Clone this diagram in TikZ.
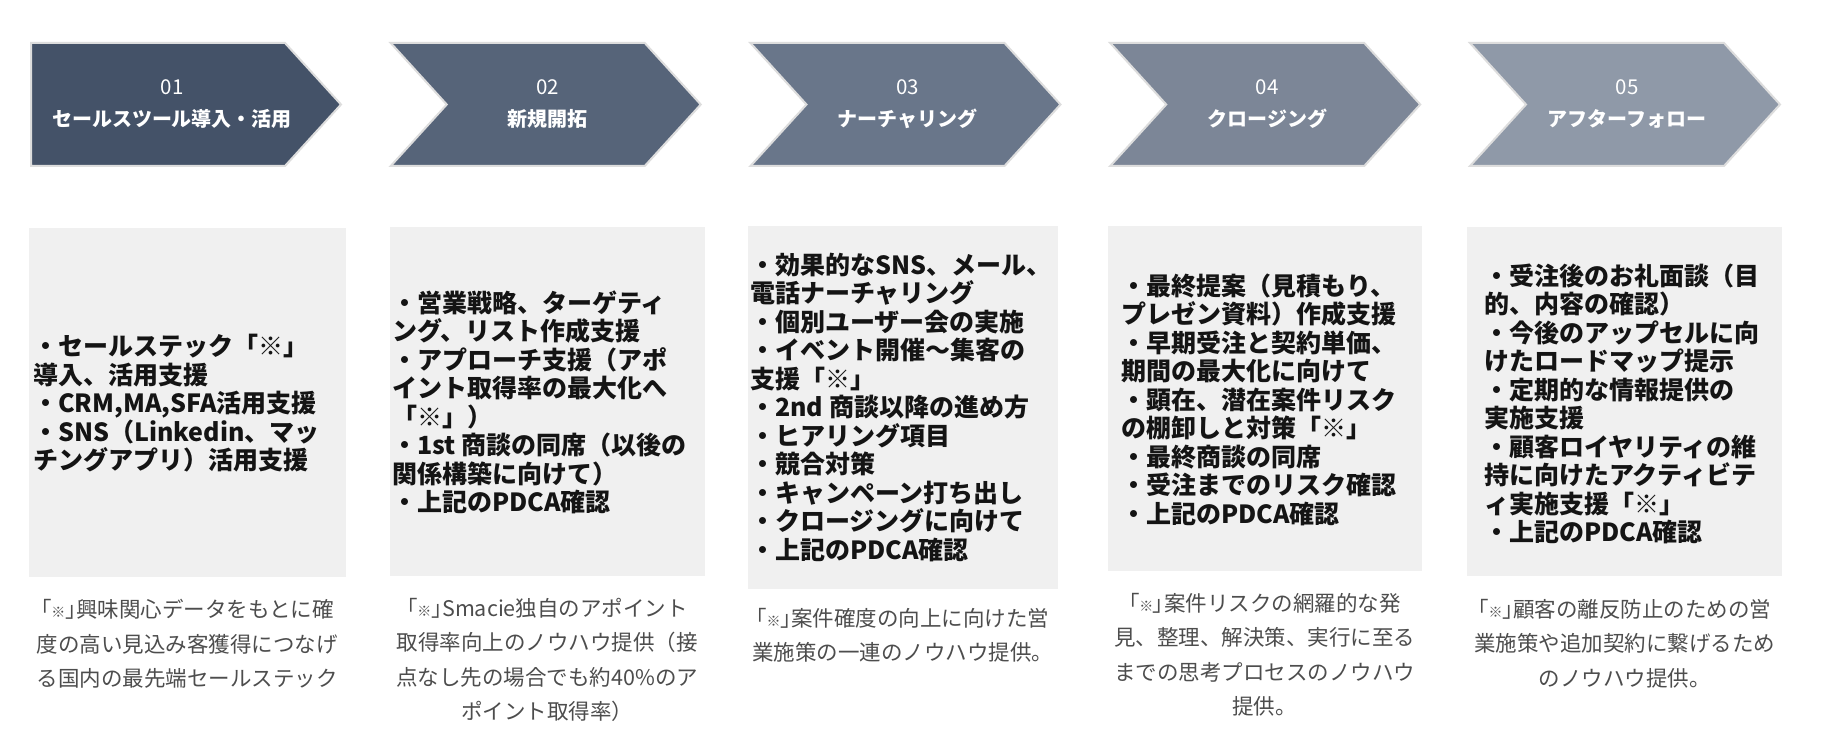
\documentclass[tikz,border=0pt]{standalone}
\usepackage{fontspec}
\setmainfont{Noto Sans CJK JP}
\definecolor{cA}{HTML}{445268}
\definecolor{cB}{HTML}{566479}
\definecolor{cC}{HTML}{69768A}
\definecolor{cD}{HTML}{7C8697}
\definecolor{cE}{HTML}{8F99A8}
\definecolor{cardgray}{HTML}{F0F0F0}
\definecolor{capgray}{HTML}{4D4D4D}
\definecolor{rimgray}{HTML}{DDDDDD}
\newcommand\kome{{\addfontfeatures{RawFeature=+palt}「{\fontsize{14}{14}\selectfont ※}」}}
\begin{document}
\begin{tikzpicture}[x=1pt,y=-1pt,
  chev/.style={draw=rimgray, line width=2pt, line join=miter},
  num/.style={text=white, inner sep=0, font=\fontsize{20.5}{20.5}\selectfont},
  ttl/.style={text=white, inner sep=0, font=\fontsize{20}{20}\selectfont\bfseries},
  card/.style={fill=cardgray},
  body/.style={anchor=west, align=left, inner sep=0, text=black!92, font=\fontsize{25}{28.5}\selectfont\bfseries},
  captxt/.style={anchor=north, align=center, inner sep=0, text=capgray, font=\fontsize{21.5}{34.5}\selectfont}]

\fill[white] (0,0) rectangle (1824,754);
\useasboundingbox (0,0) rectangle (1824,754);

% chevrons
\draw[chev, fill=cA] (31,43) -- (285,43) -- (341,104.5) -- (285,166) -- (31,166) -- cycle;
\foreach \i/\c in {1/cB,2/cC,3/cD,4/cE}{
  \pgfmathsetmacro{\L}{31+359.75*\i}
  \draw[chev, fill=\c] (\L,43) -- (\L+254,43) -- (\L+310,104.5) -- (\L+254,166) -- (\L,166) -- (\L+56,104.5) -- cycle;
}

\node[num] (n1) at (172,87) {01};
\node[ttl] (t1) at (172,119) {セールスツール導入・活用};
\node[num] (n2) at (547.75,87) {02};
\node[ttl] (t2) at (547.75,119) {新規開拓};
\node[num] (n3) at (907.5,87) {03};
\node[ttl] (t3) at (907.5,119) {ナーチャリング};
\node[num] (n4) at (1267.25,87) {04};
\node[ttl] (t4) at (1267.25,119) {クロージング};
\node[num] (n5) at (1627,87) {05};
\node[ttl] (t5) at (1627,119) {アフターフォロー};

% cards
\fill[card] (29,228) rectangle (345.5,577);
\fill[card] (389.7,227) rectangle (705,576);
\fill[card] (748,225.7) rectangle (1057.5,588.6);
\fill[card] (1107.5,225.7) rectangle (1421.5,571);
\fill[card] (1467,227) rectangle (1782,576);

\node[body] (b1) at (33,403.5) {・セールステック「※」\\導入、活用支援\\・CRM,MA,SFA活用支援\\・SNS（Linkedin、マッ\\チングアプリ）活用支援};
\node[body] (b2) at (392,402.5) {・営業戦略、ターゲティ\\ング、リスト作成支援\\・アプローチ支援（アポ\\イント取得率の最大化へ\\「※」）\\・1st 商談の同席（以後の\\関係構築に向けて）\\・上記のPDCA確認};
\node[body] (b3) at (750,407.5) {・効果的なSNS、メール、\\電話ナーチャリング\\・個別ユーザー会の実施\\・イベント開催～集客の\\支援「※」\\・2nd 商談以降の進め方\\・ヒアリング項目\\・競合対策\\・キャンペーン打ち出し\\・クロージングに向けて\\・上記のPDCA確認};
\node[body] (b4) at (1121,399.5) {・最終提案（見積もり、\\プレゼン資料）作成支援\\・早期受注と契約単価、\\期間の最大化に向けて\\・顕在、潜在案件リスク\\の棚卸しと対策「※」\\・最終商談の同席\\・受注までのリスク確認\\・上記のPDCA確認};
\node[body] (b5) at (1484,404) {・受注後のお礼面談（目\\的、内容の確認）\\・今後のアップセルに向\\けたロードマップ提示\\・定期的な情報提供の\\実施支援\\・顧客ロイヤリティの維\\持に向けたアクティビテ\\ィ実施支援「※」\\・上記のPDCA確認};

% captions
\node[captxt] (k1) at (187.2,599) {\kome 興味関心データをもとに確\\度の高い見込み客獲得につなげ\\る国内の最先端セールステック};
\node[captxt] (k2) at (547.3,597.6) {\kome Smacie独自のアポイント\\取得率向上のノウハウ提供（接\\点なし先の場合でも約40\%のア\\ポイント取得率）};
\node[captxt] (k3) at (902.7,608) {\kome 案件確度の向上に向けた営\\業施策の一連のノウハウ提供。};
\node[captxt] (k4) at (1264.5,593) {\kome 案件リスクの網羅的な発\\見、整理、解決策、実行に至る\\までの思考プロセスのノウハウ\\提供。};
\node[captxt] (k5) at (1624.5,599) {\kome 顧客の離反防止のための営\\業施策や追加契約に繋げるため\\のノウハウ提供。};
\end{tikzpicture}
\end{document}
